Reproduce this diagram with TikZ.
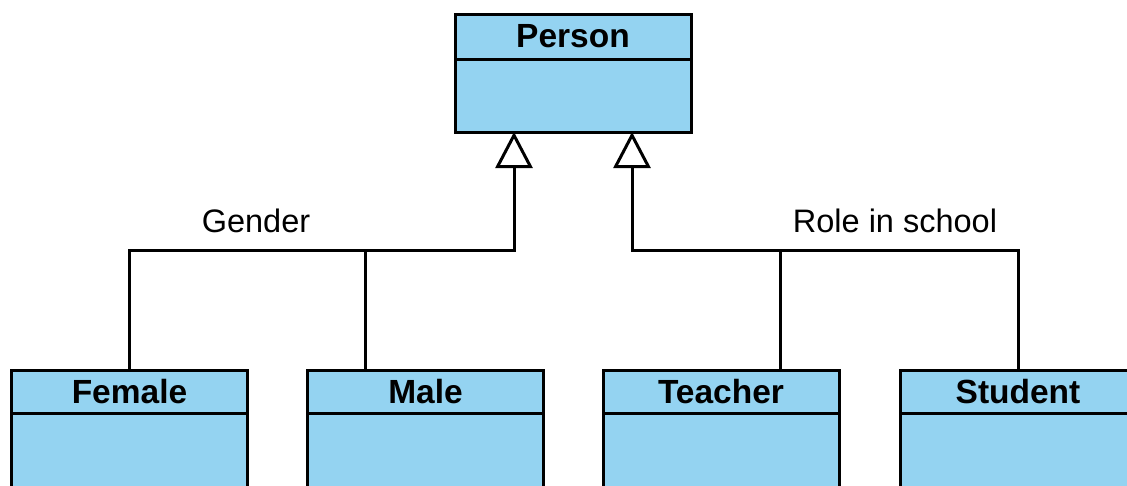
\documentclass[tikz,border=0pt]{standalone}
\usepackage{fontspec}
\setmainfont{Liberation Sans}
\usetikzlibrary{arrows.meta}
\definecolor{classblue}{RGB}{148,211,241}

\begin{document}
\begin{tikzpicture}[x=1pt,y=-1pt,
    classhead/.style={draw, fill=classblue, line width=3pt, minimum width=236pt,
        minimum height=45pt, inner sep=0pt, outer sep=0pt, anchor=north,
        font=\fontsize{33.5}{38}\selectfont\bfseries},
    classbody/.style={draw, fill=classblue, line width=3pt, minimum width=236pt,
        inner sep=0pt, outer sep=0pt, anchor=north},
    link/.style={line width=3pt},
    inherit/.style={link, -{Triangle[open, length=36pt, width=37pt, fill=white]}},
    setlabel/.style={font=\fontsize{32.5}{38}\selectfont, anchor=base}]

    \useasboundingbox (0,0) rectangle (1127,485);
    \clip (0,0) rectangle (1127,485);

    % superclass
    \node[classhead] (person-head) at (573,14) {Person};
    \node[classbody, minimum height=73pt] (person-body) at (person-head.south) {};

    % subclasses
    \foreach \name/\lbl/\cx in {female/Female/129.5, male/Male/425.5,
                                teacher/Teacher/721, student/Student/1018} {
        \node[classhead, minimum height=43pt] (\name-head) at (\cx,370) {\lbl};
        \node[classbody, minimum height=80pt] (\name-body) at (\name-head.south) {};
    }

    \coordinate (genderjoint) at (514,250);
    \coordinate (malejoint) at (365,250);
    \coordinate (rolejoint) at (632,250);
    \coordinate (teacherjoint) at (780,250);

    \draw[inherit] (female-head.north) |- (genderjoint) -- (genderjoint |- person-body.south);
    \draw[link] (malejoint) -- (malejoint |- male-head.north);
    \draw[inherit] (student-head.north) |- (rolejoint) -- (rolejoint |- person-body.south);
    \draw[link] (teacherjoint) -- (teacherjoint |- teacher-head.north);

    \node[setlabel] (genderlabel) at (256,232) {Gender};
    \node[setlabel] (rolelabel) at (895,232) {Role in school};

\end{tikzpicture}
\end{document}
